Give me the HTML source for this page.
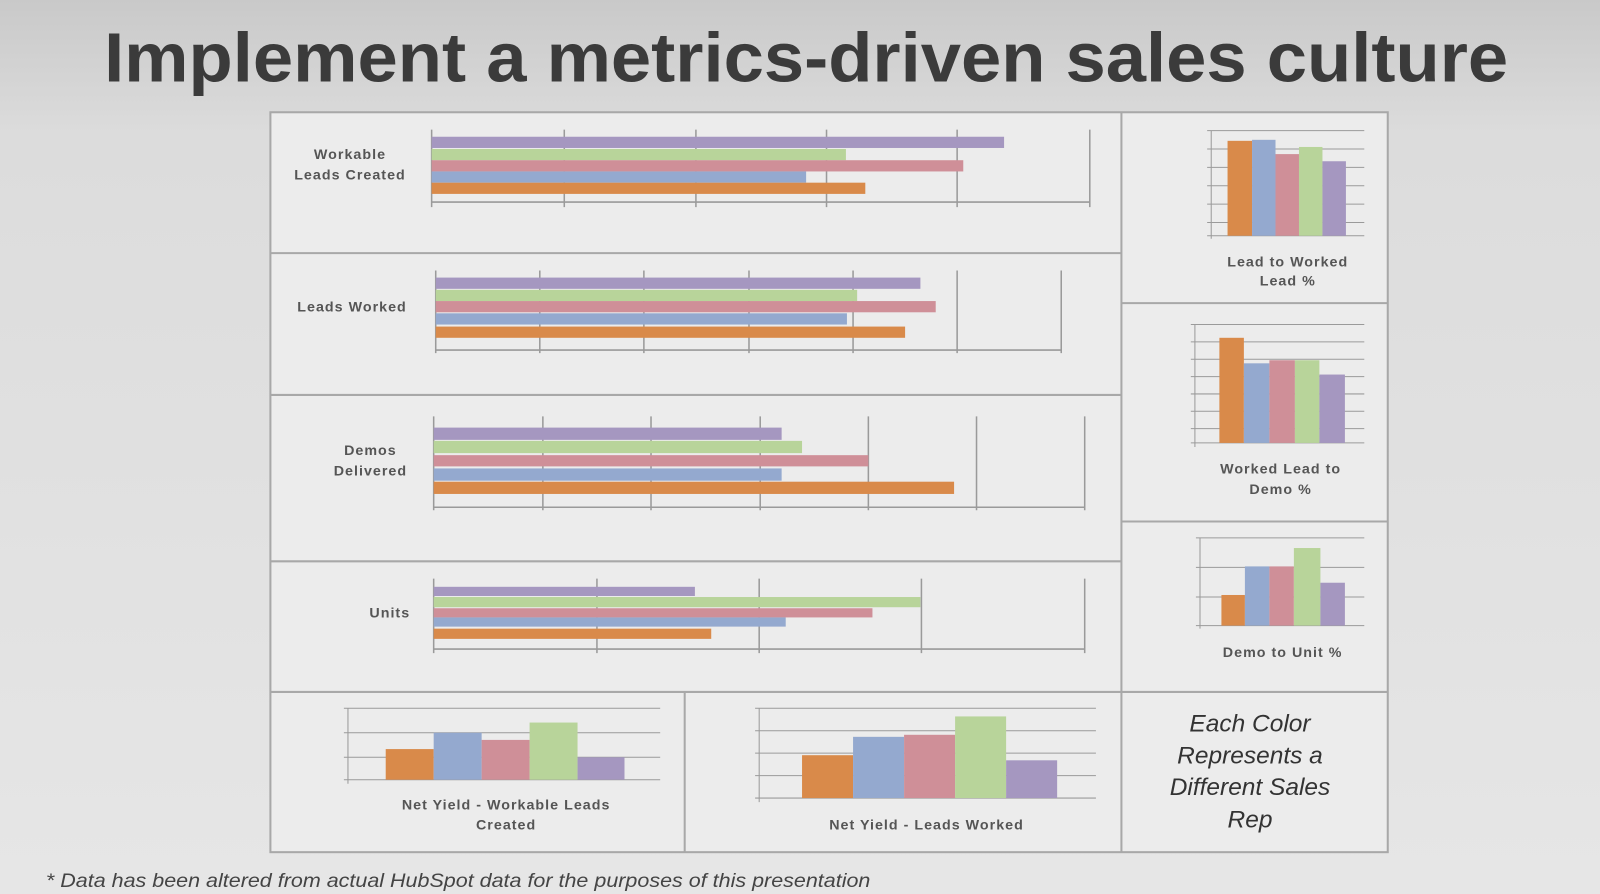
<!DOCTYPE html>
<html><head><meta charset="utf-8"><style>
html,body{margin:0;padding:0;width:1600px;height:894px;overflow:hidden;background:#dcdcdc}
svg{display:block}
</style></head><body>
<svg width="1600" height="894" viewBox="0 0 1568 876" preserveAspectRatio="none" xmlns="http://www.w3.org/2000/svg" font-family="Liberation Sans, sans-serif">
<defs>
<linearGradient id="bg" x1="0" y1="0" x2="0" y2="1">
<stop offset="0" stop-color="#c9c9c9"/><stop offset="0.15" stop-color="#dcdcdc"/><stop offset="1" stop-color="#e6e6e6"/>
</linearGradient>
</defs>
<rect width="1568" height="876" fill="url(#bg)"/>
<text x="102" y="80" textLength="1376" lengthAdjust="spacingAndGlyphs" font-size="68" font-weight="bold" fill="#3b3b3b">Implement a metrics-driven sales culture</text>
<rect x="265" y="110" width="1095" height="725" fill="#ececec" stroke="#a8a8a8" stroke-width="2"/>
<g stroke="#a8a8a8" stroke-width="2">
<line x1="1099" y1="110" x2="1099" y2="835"/>
<line x1="265" y1="248" x2="1099" y2="248"/>
<line x1="265" y1="387" x2="1099" y2="387"/>
<line x1="265" y1="550" x2="1099" y2="550"/>
<line x1="265" y1="678" x2="1360" y2="678"/>
<line x1="1099" y1="297" x2="1360" y2="297"/>
<line x1="1099" y1="511" x2="1360" y2="511"/>
<line x1="671" y1="678" x2="671" y2="835"/>
</g>
<g fill="none" stroke="#9a9a9a" stroke-width="1.5">
<path d="M423 127V203M423 198H1068M553 127V203M682 127V203M810 127V203M938 127V203M1068 127V203"/>
<path d="M427 265V346M427 343H1040M529 265V346M631 265V346M734 265V346M836 265V346M938 265V346M1040 265V346"/>
<path d="M425 408V500M425 497H1063M532 408V500M638 408V500M745 408V500M851 408V500M957 408V500M1063 408V500"/>
<path d="M425 567V640M425 636H1063M585 567V640M744 567V640M903 567V640M1063 567V640"/>
</g>
<g font-size="14" font-weight="bold" fill="#555" text-anchor="middle" letter-spacing="1">
<text x="343" y="156">Workable</text><text x="343" y="176">Leads Created</text>
<text x="345" y="305">Leads Worked</text>
<text x="363" y="446">Demos</text><text x="363" y="466">Delivered</text>
<text x="382" y="605">Units</text>
<text x="1262" y="261">Lead to Worked</text><text x="1262" y="280">Lead %</text>
<text x="1255" y="464">Worked Lead to</text><text x="1255" y="484">Demo %</text>
<text x="1257" y="644">Demo to Unit %</text>
<text x="496" y="793">Net Yield - Workable Leads</text><text x="496" y="813">Created</text>
<text x="908" y="813">Net Yield - Leads Worked</text>
</g>
<g>
<rect x="423" y="134" width="561" height="11" fill="#a597c0"/>
<rect x="423" y="146" width="406" height="11" fill="#b8d49a"/>
<rect x="423" y="157" width="521" height="11" fill="#cf8f98"/>
<rect x="423" y="168" width="367" height="11" fill="#94a9cf"/>
<rect x="423" y="179" width="425" height="11" fill="#d98a4a"/>
<rect x="427" y="272" width="475" height="11" fill="#a597c0"/>
<rect x="427" y="284" width="413" height="11" fill="#b8d49a"/>
<rect x="427" y="295" width="490" height="11" fill="#cf8f98"/>
<rect x="427" y="307" width="403" height="11" fill="#94a9cf"/>
<rect x="427" y="320" width="460" height="11" fill="#d98a4a"/>
<rect x="425" y="419" width="341" height="12" fill="#a597c0"/>
<rect x="425" y="432" width="361" height="12" fill="#b8d49a"/>
<rect x="425" y="446" width="426" height="11" fill="#cf8f98"/>
<rect x="425" y="459" width="341" height="12" fill="#94a9cf"/>
<rect x="425" y="472" width="510" height="12" fill="#d98a4a"/>
<rect x="425" y="575" width="256" height="9" fill="#a597c0"/>
<rect x="425" y="585" width="477" height="10" fill="#b8d49a"/>
<rect x="425" y="596" width="430" height="9" fill="#cf8f98"/>
<rect x="425" y="605" width="345" height="9" fill="#94a9cf"/>
<rect x="425" y="616" width="272" height="10" fill="#d98a4a"/>
</g>
<g stroke="#9a9a9a" stroke-width="1" fill="none">
<path d="M1183 128H1337M1183 146H1337M1183 164H1337M1183 182H1337M1183 200H1337M1183 218H1337M1183 231H1337M1187 128V234"/>
<path d="M1167 318H1337M1167 335H1337M1167 352H1337M1167 369H1337M1167 386H1337M1167 403H1337M1167 420H1337M1167 434H1337M1171 318V438"/>
<path d="M1172 527H1337M1172 556H1337M1172 585H1337M1172 613H1337M1176 527V616"/>
<path d="M337 694H647M337 718H647M337 742H647M337 764H647M341 694V768"/>
<path d="M740 694H1074M740 716H1074M740 738H1074M740 760H1074M740 782H1074M744 694V786"/>
</g>
<g>
<rect x="1203" y="138" width="24" height="93" fill="#d98a4a"/><rect x="1227" y="137" width="23" height="94" fill="#94a9cf"/><rect x="1250" y="151" width="23" height="80" fill="#cf8f98"/><rect x="1273" y="144" width="23" height="87" fill="#b8d49a"/><rect x="1296" y="158" width="23" height="73" fill="#a597c0"/>
<rect x="1195" y="331" width="24" height="103" fill="#d98a4a"/><rect x="1219" y="356" width="25" height="78" fill="#94a9cf"/><rect x="1244" y="353" width="25" height="81" fill="#cf8f98"/><rect x="1269" y="353" width="24" height="81" fill="#b8d49a"/><rect x="1293" y="367" width="25" height="67" fill="#a597c0"/>
<rect x="1197" y="583" width="23" height="30" fill="#d98a4a"/><rect x="1220" y="555" width="24" height="58" fill="#94a9cf"/><rect x="1244" y="555" width="24" height="58" fill="#cf8f98"/><rect x="1268" y="537" width="26" height="76" fill="#b8d49a"/><rect x="1294" y="571" width="24" height="42" fill="#a597c0"/>
<rect x="378" y="734" width="47" height="30" fill="#d98a4a"/><rect x="425" y="718" width="47" height="46" fill="#94a9cf"/><rect x="472" y="725" width="47" height="39" fill="#cf8f98"/><rect x="519" y="708" width="47" height="56" fill="#b8d49a"/><rect x="566" y="742" width="46" height="22" fill="#a597c0"/>
<rect x="786" y="740" width="50" height="42" fill="#d98a4a"/><rect x="836" y="722" width="50" height="60" fill="#94a9cf"/><rect x="886" y="720" width="50" height="62" fill="#cf8f98"/><rect x="936" y="702" width="50" height="80" fill="#b8d49a"/><rect x="986" y="745" width="50" height="37" fill="#a597c0"/>
</g>
<g font-size="24" font-style="italic" fill="#333" text-anchor="middle">
<text x="1225" y="717">Each Color</text><text x="1225" y="748">Represents a</text><text x="1225" y="779">Different Sales</text><text x="1225" y="811">Rep</text>
</g>
<text x="45" y="869" textLength="808" lengthAdjust="spacingAndGlyphs" font-size="19" font-style="italic" fill="#444">* Data has been altered from actual HubSpot data for the purposes of this presentation</text>
</svg>
</body></html>
